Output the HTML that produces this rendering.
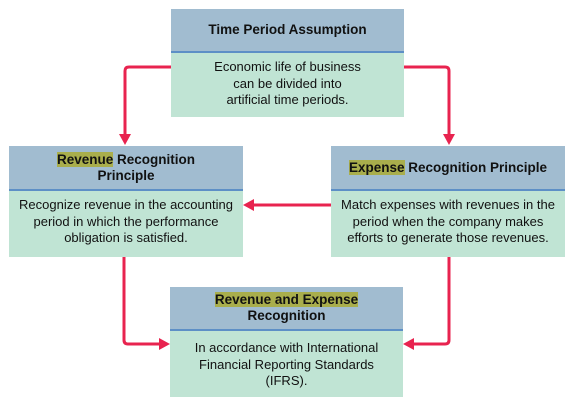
<!DOCTYPE html>
<html><head><style>
body{margin:0;width:574px;height:408px;background:#fff;font-family:"Liberation Sans",sans-serif;position:relative;overflow:hidden}
.box{position:absolute;background:#c0e4d4}
.hd{background:#a1bcd0;border-bottom:2px solid #5d8fc6;font-weight:bold;font-size:13.5px;color:#111;text-align:center;display:flex;align-items:center;justify-content:center;line-height:16px;box-sizing:border-box}
.bd{font-size:13px;color:#111;text-align:center;line-height:16.5px;padding-top:6px;white-space:nowrap}
.hl{background:#a9ae4c}
svg{position:absolute;left:0;top:0}
</style></head><body>
<svg width="574" height="408">
<g fill="none" stroke="#e8234f" stroke-width="3" stroke-linejoin="round">
<path d="M171 67 H129 Q125 67 125 71 V136"/>
<path d="M404 67 H445 Q449 67 449 71 V136"/>
<path d="M331 205 H252"/>
<path d="M124 257 V340 Q124 344 128 344 H161"/>
<path d="M449 257 V340 Q449 344 445 344 H412"/>
</g>
<g fill="#e8234f">
<path d="M119 134 L131 134 L125 145 Z"/>
<path d="M443 134 L455 134 L449 145 Z"/>
<path d="M254 199 L254 211 L243 205 Z"/>
<path d="M159 338 L159 350 L170 344 Z"/>
<path d="M414 338 L414 350 L403 344 Z"/>
</g>
</svg>
<div class="box" style="left:171px;top:9px;width:233px;height:108px">
<div class="hd" style="height:44px">Time Period Assumption</div>
<div class="bd">Economic life of business<br>can be divided into<br>artificial time periods.</div></div>
<div class="box" style="left:9px;top:146px;width:234px;height:111px">
<div class="hd" style="height:45px"><span><span class="hl">Revenue</span> Recognition<br>Principle</span></div>
<div class="bd">Recognize revenue in the accounting<br>period in which the performance<br>obligation is satisfied.</div></div>
<div class="box" style="left:331px;top:146px;width:234px;height:111px">
<div class="hd" style="height:45px"><span><span class="hl">Expense</span> Recognition Principle</span></div>
<div class="bd">Match expenses with revenues in the<br>period when the company makes<br>efforts to generate those revenues.</div></div>
<div class="box" style="left:170px;top:287px;width:233px;height:110px">
<div class="hd" style="height:44px"><span><span class="hl">Revenue and Expense</span><br>Recognition</span></div>
<div class="bd" style="padding-top:9px">In accordance with International<br>Financial Reporting Standards<br>(IFRS).</div></div>
</body></html>
